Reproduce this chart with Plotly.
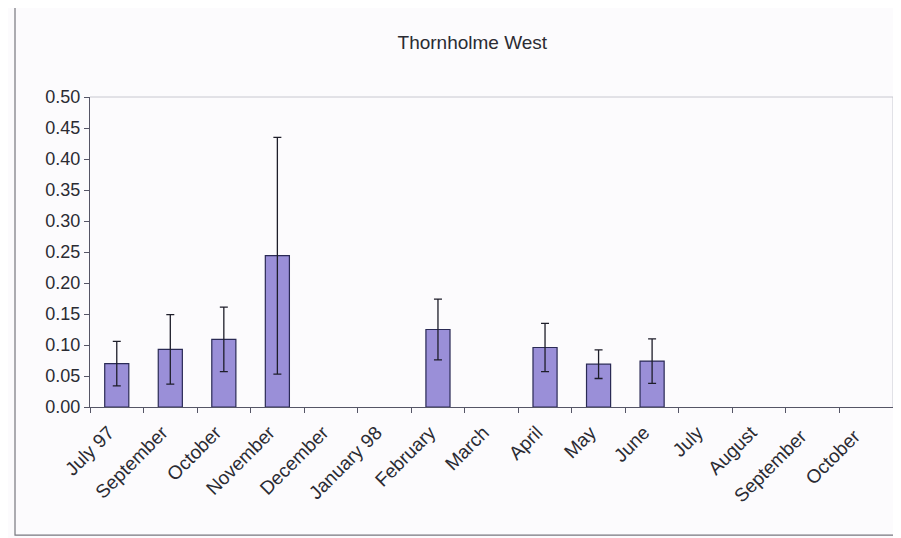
import plotly.graph_objects as go

categories = ["July 97", "September", "October", "November", "December", "January 98",
              "February", "March", "April", "May", "June", "July", "August",
              "September ", "October "]
values = [0.070, 0.093, 0.109, 0.244, None, None, 0.125, None, 0.096, 0.069, 0.074,
          None, None, None, None]
errors = [0.036, 0.056, 0.052, 0.191, None, None, 0.049, None, 0.039, 0.023, 0.036,
          None, None, None, None]
y_ticks = [0.00, 0.05, 0.10, 0.15, 0.20, 0.25, 0.30, 0.35, 0.40, 0.45, 0.50]
title = "Thornholme West"

font_family = "Liberation Sans, Arial, sans-serif"
text_color = "#2b2b33"

fig = go.Figure()
fig.add_trace(go.Bar(
    x=categories, y=values,
    marker=dict(color="#9a8fd8", line=dict(color="#2a2a55", width=1.2)),
    error_y=dict(type="data", array=errors, visible=True, color="#1e1e2a",
                 thickness=1.3, width=4),
    width=0.45,
))

# page body has an 8px default margin; compensate so the chart sits at the reference spot
fig.update_layout(
    width=893, height=530,
    margin=dict(l=82, r=8, t=89, b=131),
    paper_bgcolor="#fcfbfd",
    plot_bgcolor="#fcfbfd",
    showlegend=False,
    title=dict(text=title, x=0.52, xanchor="center", y=0.936, yanchor="middle",
               font=dict(family=font_family, size=19, color=text_color)),
    font=dict(family=font_family, color=text_color),
    xaxis=dict(
        type="category", categoryorder="array", categoryarray=categories,
        tickangle=-45, tickson="boundaries", ticks="outside", ticklen=5,
        tickcolor="#555566", showline=True, linecolor="#555566", linewidth=1.2,
        tickfont=dict(size=19, color=text_color), showgrid=False, mirror=False,
        automargin=False, ticklabelshift=-8, ticklabelstandoff=6,
    ),
    yaxis=dict(
        range=[0, 0.5], tickvals=y_ticks, tickformat=".2f",
        ticks="outside", ticklen=5, tickcolor="#555566",
        showline=True, linecolor="#555566", linewidth=1.2,
        tickfont=dict(size=18, color=text_color), showgrid=False, zeroline=False,
        automargin=False,
    ),
    shapes=[
        dict(type="line", xref="paper", yref="paper", x0=0, x1=1, y0=1, y1=1,
             line=dict(color="#c8c8d0", width=1)),
        dict(type="line", xref="paper", yref="paper", x0=1, x1=1, y0=0, y1=1,
             line=dict(color="#c8c8d0", width=1)),
        dict(type="rect", xref="paper", yref="paper", x0=-0.0934, x1=1.02,
             y0=-0.413, y1=1.297, line=dict(color="#77777f", width=1.2),
             fillcolor="rgba(0,0,0,0)"),
    ],
)

fig.write_html("out.html")
